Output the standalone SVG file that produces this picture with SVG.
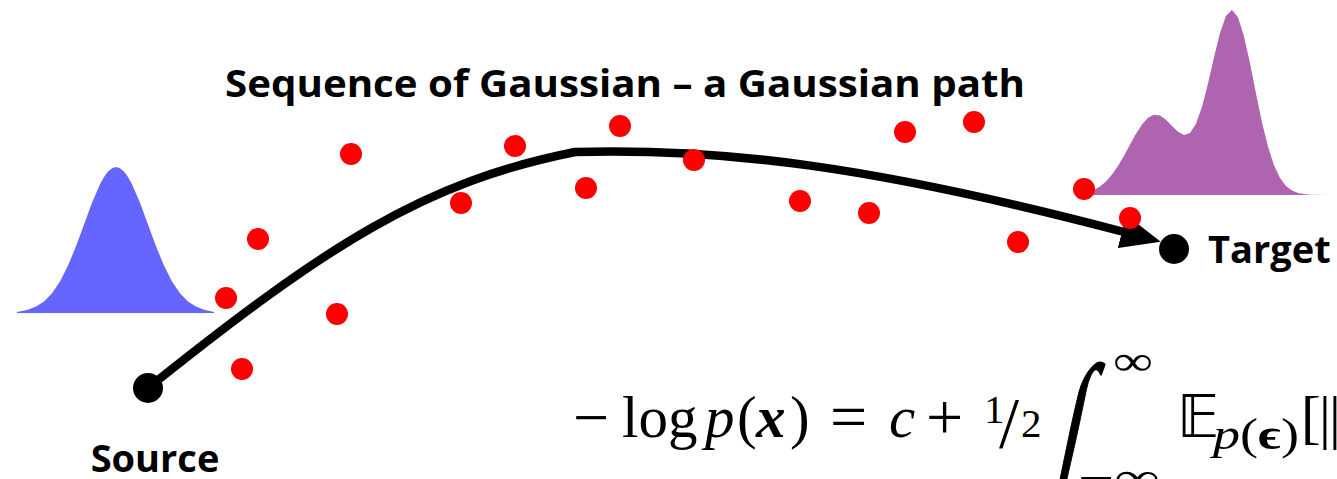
<svg xmlns="http://www.w3.org/2000/svg" width="1337" height="479" viewBox="0 0 1337 479">
<style>
.dot{fill:#ff0000}
.lbl{font-family:"Open Sans","Liberation Sans",sans-serif;font-weight:bold;font-size:38px;fill:#000}
.m{font-family:"Liberation Serif","DejaVu Serif",serif;fill:#000}
.i{font-style:italic}
.b{font-weight:bold}
.path{fill:none;stroke:#000;stroke-width:8.5}
</style>
<defs>
<marker id="ah" markerUnits="userSpaceOnUse" viewBox="0 0 40 34" markerWidth="40" markerHeight="34" refX="2" refY="17" orient="auto"><path d="M0,0 L40,17 L0,34 Z" fill="#000"/></marker>
</defs>
<rect width="1337" height="479" fill="#fff"/>
<g id="title"><text class="lbl" x="225" y="97" font-size="39" textLength="800" lengthAdjust="spacingAndGlyphs">Sequence of Gaussian – a Gaussian path</text></g>
<g id="source-dist"><polygon fill="#6666ff" points="17,313 17,312 28,309.7 36,306.6 44,301.4 52,293.2 60,281.4 68,265.6 76,246.2 84,224.4 92,202.8 100,184.2 104,177 108,171.5 112,168.2 116,167 120,168.2 124,171.5 128,177 132,184.2 140,202.8 148,224.4 156,246.2 164,265.6 172,281.4 180,293.2 188,301.4 196,306.6 204,309.7 214,312 214,313"/></g>
<g id="target-dist"><polygon fill="#ae64ae" points="1086,195 1088,192.1 1094,189.9 1100,186.5 1106,181.5 1112,174.6 1118,165.9 1124,155.7 1130,144.6 1136,133.7 1142,124.4 1148,117.7 1154,114.7 1160,115.6 1166,119.8 1172,125.9 1178,131.8 1184,135 1190,132.9 1196,123.7 1202,106.8 1208,83.5 1214,57.2 1220,32.9 1226,15.8 1232,10 1238,17.2 1244,36.4 1250,63.3 1256,93.5 1262,122.4 1268,146.8 1274,165.2 1280,178 1286,185.9 1292,190.5 1298,193 1304,194.1 1310,194.7 1330,195"/></g>
<g id="connectors"><path class="path" d="M148,388 C328,244 425,182 575,152 C720,148 870,165 1124,232" marker-end="url(#ah)"/></g>
<g id="source"><circle cx="148" cy="388" r="15" fill="#000"/><text class="lbl" x="155" y="472" font-size="39" text-anchor="middle">Source</text></g>
<g id="target"><circle cx="1174" cy="249" r="15" fill="#000"/><text class="lbl" x="1208" y="263">Target</text></g>
<g id="samples">
<circle class="dot" cx="351" cy="154" r="11"/>
<circle class="dot" cx="515" cy="146" r="11"/>
<circle class="dot" cx="586" cy="188" r="11"/>
<circle class="dot" cx="461" cy="203" r="11"/>
<circle class="dot" cx="258" cy="239" r="11"/>
<circle class="dot" cx="226" cy="298" r="11"/>
<circle class="dot" cx="337" cy="314" r="11"/>
<circle class="dot" cx="242" cy="369" r="11"/>
<circle class="dot" cx="620" cy="126" r="11"/>
<circle class="dot" cx="694" cy="160" r="11"/>
<circle class="dot" cx="800" cy="201" r="11"/>
<circle class="dot" cx="869" cy="213" r="11"/>
<circle class="dot" cx="905" cy="132" r="11"/>
<circle class="dot" cx="974" cy="122" r="11"/>
<circle class="dot" cx="1018" cy="242" r="11"/>
<circle class="dot" cx="1084" cy="189" r="11"/>
<circle class="dot" cx="1130" cy="218" r="11"/>
</g>
<g id="formula" class="m">
<text x="573" y="439" font-size="64">−</text>
<text x="622" y="437" font-size="59">log</text>
<text x="705" y="437" font-size="59" class="i">p</text>
<text x="737" y="437" font-size="59">(</text>
<text x="756" y="437" font-size="59" class="i b">x</text>
<text x="790" y="437" font-size="59">)</text>
<text x="830" y="439" font-size="66">=</text>
<text x="889" y="437" font-size="59" class="i">c</text>
<text x="926" y="439" font-size="66">+</text>
<text x="984" y="423" font-size="41">1</text>
<text x="999" y="447" font-size="72">/</text>
<text x="1021" y="437" font-size="41">2</text>
<text transform="translate(1054,468) skewX(-12) scale(1.15,1.9)" font-size="78" stroke="#000" stroke-width="0.8">∫</text>
<text x="1113" y="375" font-size="42" textLength="40" lengthAdjust="spacingAndGlyphs">∞</text>
<text x="1078" y="492" font-size="42" textLength="82" lengthAdjust="spacingAndGlyphs">−∞</text>
<text x="1177" y="437" font-size="58" font-family="DejaVu Sans, serif">𝔼</text>
<text x="1213" y="449" font-size="44" textLength="86" lengthAdjust="spacingAndGlyphs"><tspan class="i">p</tspan>(<tspan class="b">ϵ</tspan>)</text>
<text x="1301" y="437" font-size="59">[</text>
<text x="1319" y="437" font-size="59">|</text>
<text x="1329" y="437" font-size="59">|</text>
</g>
</svg>
